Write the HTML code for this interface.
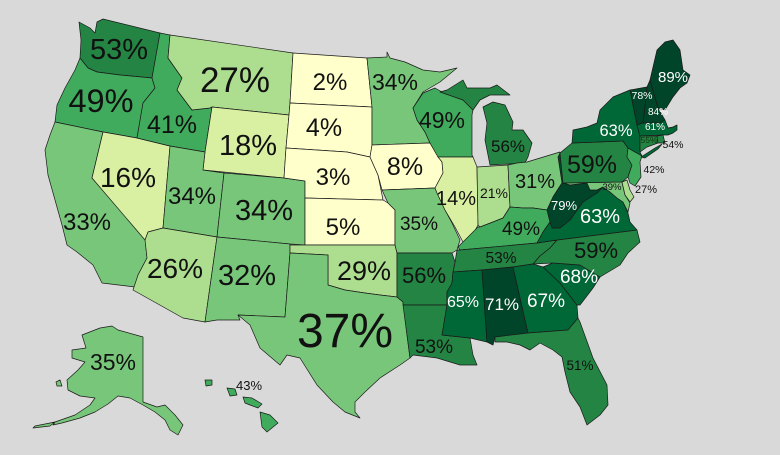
<!DOCTYPE html>
<html><head><meta charset="utf-8"><style>
html,body{margin:0;padding:0;background:#d9d9d9;}
svg{display:block;}
text{font-family:"Liberation Sans",sans-serif;text-anchor:middle;fill:#111;}
.w{fill:#fff;}
polygon{stroke:#1a1a1a;stroke-width:0.7;stroke-linejoin:round;}
.c0{fill:#ffffcc}.c1{fill:#d9f0a3}.c2{fill:#addd8e}.c3{fill:#78c679}.c4{fill:#41ab5d}.c5{fill:#238443}.c6{fill:#006837}.c7{fill:#004529}
</style></head><body>
<svg width="780" height="455" viewBox="0 0 780 455" xmlns="http://www.w3.org/2000/svg">
<rect width="780" height="455" fill="#d9d9d9"/>
<!-- West -->
<polygon class="c5" points="79,22 90,28 95,33 97,22 103,19 160,33 152,78 120,75 97,72 88,68 80,58 81,40"/>
<polygon class="c4" points="80,58 88,68 97,72 120,75 152,78 155,88 143,103 137,138 103,132 55,122 57,105 65,88 75,70"/>
<polygon class="c3" points="55,122 103,132 92,178 145,238 147,258 138,275 135,287 102,283 93,265 77,252 67,245 62,225 55,200 48,175 45,150 50,135"/>
<polygon class="c1" points="103,132 137,138 170,146 163,228 148,232 145,240 92,178"/>
<polygon class="c4" points="160,33 170,35 168,58 182,78 177,90 192,110 210,108 212,107 205,152 170,146 137,138 143,103 155,88 152,78"/>
<polygon class="c2" points="170,35 293,53 290,103 289,115 212,107 210,108 192,110 177,90 182,78 168,58"/>
<polygon class="c1" points="212,107 289,115 286,148 284,178 203,170 205,152"/>
<polygon class="c3" points="170,146 205,152 203,170 224,173 217,237 163,228"/>
<polygon class="c2" points="163,228 217,237 205,322 183,318 133,290 138,275 147,258 145,240 148,232"/>
<polygon class="c3" points="224,173 284,178 305,181 305,245 290,244 217,237"/>
<polygon class="c3" points="217,237 290,244 290,253 285,317 238,315 240,320 217,320 205,322"/>
<!-- Plains -->
<polygon class="c0" points="293,53 367,58 372,107 290,103"/>
<polygon class="c0" points="290,103 372,107 372,145 370,157 347,152 286,148 289,115"/>
<polygon class="c0" points="286,148 347,152 370,157 378,175 383,200 305,198 305,181 284,178"/>
<polygon class="c0" points="305,198 383,200 388,203 395,210 395,245 305,245"/>
<polygon class="c2" points="290,245 395,245 397,253 397,297 380,295 365,293 345,290 328,285 328,255 290,253"/>
<polygon class="c3" points="290,253 328,255 328,285 345,290 365,293 380,295 397,297 403,302 407,335 410,358 400,365 380,378 365,392 355,402 355,412 360,418 345,412 333,402 317,385 300,358 287,355 280,365 260,348 250,325 238,315 285,317"/>
<!-- Midwest -->
<polygon class="c3" points="367,58 387,57 387,52 390,58 405,62 423,70 440,72 457,68 440,82 423,92 413,108 417,120 425,132 430,143 372,145 372,107"/>
<polygon class="c0" points="372,145 430,143 437,155 442,162 443,173 435,188 382,190 378,175 370,157"/>
<polygon class="c3" points="382,190 435,188 437,193 445,210 452,223 460,240 457,250 452,253 397,253 395,245 395,210 388,203"/>
<polygon class="c4" points="423,93 435,88 442,92 463,100 473,110 472,115 472,155 473,157 438,157 430,143 425,132 417,120 413,108"/>
<polygon class="c5" points="440,92 447,90 463,80 467,88 490,88 497,85 510,95 490,95 480,100 473,110 463,100"/>
<polygon class="c5" points="483,107 493,102 505,105 513,122 512,130 523,130 532,143 528,157 525,163 490,165 485,140 487,123"/>
<polygon class="c1" points="438,157 473,157 477,167 478,225 470,240 463,242 455,227 445,210 437,193 435,188 443,173 442,162"/>
<polygon class="c2" points="477,167 508,165 510,207 503,218 493,222 480,227 478,225"/>
<polygon class="c3" points="508,165 517,163 527,162 550,155 560,152 562,183 553,197 547,210 533,208 523,208 510,207"/>
<polygon class="c4" points="458,247 465,240 478,227 480,227 493,222 503,218 510,207 523,208 533,208 547,210 550,222 543,232 537,243 460,250"/>
<!-- South -->
<polygon class="c5" points="460,250 537,243 557,240 550,248 540,256 533,264 513,267 482,270 453,272 455,262 457,250"/>
<polygon class="c5" points="397,253 452,253 455,262 453,272 452,283 447,292 447,305 403,305 403,302 397,297"/>
<polygon class="c5" points="403,305 447,305 442,335 470,338 473,355 477,365 460,365 437,358 413,355 410,358 407,335"/>
<polygon class="c6" points="453,272 482,270 487,342 470,338 442,335 447,305 447,292 452,283"/>
<polygon class="c7" points="482,270 513,267 528,333 495,337 493,345 487,342"/>
<polygon class="c6" points="513,267 533,264 543,267 560,283 577,305 578,318 568,330 528,333"/>
<polygon class="c5" points="495,337 528,333 568,330 578,318 580,322 593,358 607,385 608,405 600,415 587,425 580,407 570,392 565,372 562,357 553,350 540,343 530,350 520,345 507,342 495,342"/>
<polygon class="c6" points="543,267 553,263 580,265 600,277 593,288 580,305 577,305 560,283"/>
<polygon class="c5" points="557,240 637,230 640,242 628,253 620,265 600,277 580,265 553,263 533,264 540,256 550,248"/>
<polygon class="c6" points="537,243 543,232 550,222 552,228 560,228 570,220 577,210 583,202 597,193 603,187 610,192 617,198 623,202 628,213 630,222 637,230 557,240"/>
<polygon class="c7" points="547,210 553,197 562,183 558,157 560,153 562,152 563,183 570,185 587,183 590,190 597,190 603,187 597,193 583,202 577,210 570,220 560,228 552,228 550,222"/>
<!-- Northeast -->
<polygon class="c3" points="563,183 622,182 625,195 630,203 628,212 623,202 617,198 610,192 603,187 597,190 590,190 587,183 570,185"/>
<polygon class="c2" points="622,182 627,180 630,190 634,197 630,202 625,195"/>
<polygon class="c5" points="560,153 572,143 623,141 628,148 627,157 632,165 628,177 622,182 563,183"/>
<polygon class="c4" points="628,148 642,156 640,162 641,177 635,186 630,183 628,177 632,165 627,157"/>
<polygon class="c6" points="572,143 573,130 587,127 597,123 600,110 613,97 630,90 637,125 640,136 640,152 642,156 628,148 623,141"/>
<polygon class="c6" points="641,157 655,148 662,144 658,149 645,158"/>
<polygon class="c7" points="630,90 647,87 645,107 643,123 637,125"/>
<polygon class="c7" points="647,87 650,80 658,108 665,120 660,123 643,123 645,107"/>
<polygon class="c7" points="650,80 657,50 665,42 673,40 680,50 683,70 690,75 687,83 680,88 673,97 665,110 658,108"/>
<polygon class="c6" points="637,125 643,123 660,123 665,120 668,128 673,127 677,125 677,130 673,133 668,135 663,135 640,136"/>
<polygon class="c5" points="640,136 657,136 658,143 647,147 640,152"/>
<polygon class="c5" points="657,136 663,135 665,143 658,143"/>
<!-- Alaska -->
<polygon class="c3" points="82,335 100,328 112,326 118,330 143,337 143,402 157,407 165,405 175,415 183,425 178,435 170,430 165,420 155,412 143,405 130,398 118,396 108,404 95,412 80,418 62,423 53,425 55,422 75,415 90,405 95,398 80,396 68,390 67,380 78,370 85,362 72,358 72,350 86,348"/>
<polygon class="c3" points="55,422 35,426 33,428 50,426"/>
<polygon class="c3" points="56,382 60,380 62,386 57,386"/>
<!-- Hawaii -->
<polygon class="c4" points="260,412 270,415 278,423 267,432 262,427"/>
<polygon class="c4" points="243,397 252,398 262,404 258,408 250,405 245,403"/>
<polygon class="c4" points="227,388 235,389 237,395 230,396"/>
<polygon class="c4" points="205,380 212,380 212,385 206,386"/>
<!-- Labels -->
<text x="119" y="59" font-size="29">53%</text>
<text x="101" y="112" font-size="32.5">49%</text>
<text x="235" y="92" font-size="35">27%</text>
<text x="172" y="133" font-size="25">41%</text>
<text x="248" y="155" font-size="29">18%</text>
<text x="330" y="90" font-size="24">2%</text>
<text x="324" y="136" font-size="25">4%</text>
<text x="333" y="185" font-size="24">3%</text>
<text x="343" y="235" font-size="24">5%</text>
<text x="128" y="187" font-size="28">16%</text>
<text x="192" y="204" font-size="24">34%</text>
<text x="264" y="220" font-size="29">34%</text>
<text x="87" y="230" font-size="24">33%</text>
<text x="175" y="278" font-size="28">26%</text>
<text x="247" y="285" font-size="29">32%</text>
<text x="364" y="280" font-size="27">29%</text>
<text x="345" y="347" font-size="48">37%</text>
<text x="113" y="370" font-size="23">35%</text>
<text x="249" y="390" font-size="13">43%</text>
<text x="395" y="90" font-size="23">34%</text>
<text x="405" y="175" font-size="25">8%</text>
<text x="442" y="128" font-size="23">49%</text>
<text x="508" y="152" font-size="17">56%</text>
<text x="456" y="205" font-size="20">14%</text>
<text x="494" y="198" font-size="14">21%</text>
<text x="535" y="188" font-size="20">31%</text>
<text x="419" y="230" font-size="19">35%</text>
<text x="521" y="235" font-size="19">49%</text>
<text class="w" x="564" y="210" font-size="13">79%</text>
<text class="w" x="600" y="223" font-size="20">63%</text>
<text x="501" y="263" font-size="15.5">53%</text>
<text x="596" y="258" font-size="22">59%</text>
<text class="w" x="579" y="283" font-size="19">68%</text>
<text x="424" y="283" font-size="22">56%</text>
<text x="434" y="353" font-size="19">53%</text>
<text class="w" x="463" y="307" font-size="16">65%</text>
<text class="w" x="502" y="310" font-size="17">71%</text>
<text class="w" x="546" y="307" font-size="19">67%</text>
<text x="580" y="370" font-size="13.5">51%</text>
<text x="592" y="173" font-size="25">59%</text>
<text class="w" x="616" y="136" font-size="16.5">63%</text>
<text class="w" x="642" y="99" font-size="10.5">78%</text>
<text class="w" x="658" y="115" font-size="10">84%</text>
<text class="w" x="673" y="82" font-size="15">89%</text>
<text class="w" x="655" y="130" font-size="10">61%</text>
<text x="649" y="143" font-size="8.5" style="fill:#113311">55%</text>
<text x="673" y="148" font-size="10.5">54%</text>
<text x="654" y="173" font-size="10.5">42%</text>
<text x="612" y="190" font-size="9.5">39%</text>
<text x="646" y="193" font-size="11">27%</text>
</svg>
</body></html>
